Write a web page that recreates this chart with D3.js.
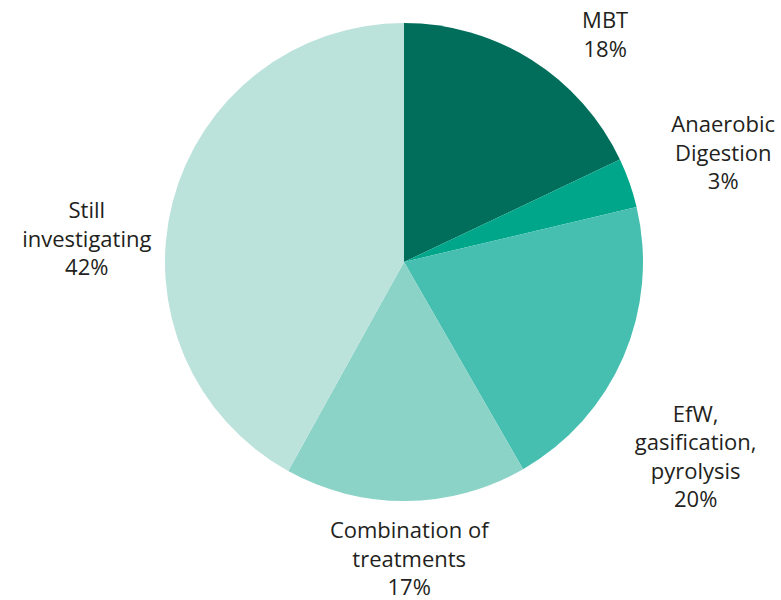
<!DOCTYPE html>
<html>
<head>
<meta charset="utf-8">
<script src="https://cdn.jsdelivr.net/npm/d3@7"></script>
<style>
  html, body { margin: 0; padding: 0; background: #ffffff; }
  svg { display: block; }
</style>
</head>
<body>
<svg id="chart" width="781" height="600"></svg>
<script>
// ---- data ----
const categories = ["MBT", "Anaerobic Digestion", "EfW, gasification, pyrolysis", "Combination of treatments", "Still investigating"];
// slice sizes as drawn in the reference picture
const values = [17.95, 3.35, 20.4, 16.35, 41.95];
// percentages as printed in the labels
const pctLabels = ["18%", "3%", "20%", "17%", "42%"];
const labelLines = [
  ["MBT"],
  ["Anaerobic", "Digestion"],
  ["EfW,", "gasification,", "pyrolysis"],
  ["Combination of", "treatments"],
  ["Still", "investigating"]
];
const colors = ["#006e5b", "#00a68a", "#46bfb1", "#8cd3c7", "#bce2dc"];

// ---- layout (label placement in polar coords: angle in degrees from top, radius) ----
const labelPolar = [
  { angle: 41.6, r: 303 },
  { angle: 71.3, r: 337 },
  { angle: 123.8, r: 351 },
  { angle: 179.0, r: 298 },
  { angle: 274.0, r: 318 }
];

const svg = d3.select("#chart");
const cx = 404, cy = 262, radius = 239;
const g = svg.append("g").attr("transform", `translate(${cx},${cy})`);

const data = categories.map((c, i) => ({ cat: c, value: values[i], pct: pctLabels[i], lines: labelLines[i], color: colors[i], lp: labelPolar[i] }));

const pie = d3.pie().value(d => d.value).sort(null);
const arc = d3.arc().innerRadius(0).outerRadius(radius);

g.selectAll("path.slice")
  .data(pie(data))
  .join("path")
  .attr("class", "slice")
  .attr("d", arc)
  .attr("fill", d => d.data.color);

const lineH = 28.5;
g.selectAll("text.lbl")
  .data(pie(data))
  .join("text")
  .attr("class", "lbl")
  .attr("text-anchor", "middle")
  .attr("font-family", "'Open Sans', 'Noto Sans', sans-serif")
  .attr("font-size", 22)
  .attr("fill", "#231f20")
  .each(function(d) {
    const a = d.data.lp.angle * Math.PI / 180;
    const x = Math.sin(a) * d.data.lp.r;
    const y = -Math.cos(a) * d.data.lp.r;
    const lines = d.data.lines.concat([d.data.pct]);
    const n = lines.length;
    const t = d3.select(this);
    const y0 = y - (n - 1) * lineH / 2 + 7;
    lines.forEach((ln, i) => {
      t.append("tspan")
        .attr("x", x)
        .attr("y", y0 + i * lineH)
        .text(ln);
    });
  });
</script>
</body>
</html>
